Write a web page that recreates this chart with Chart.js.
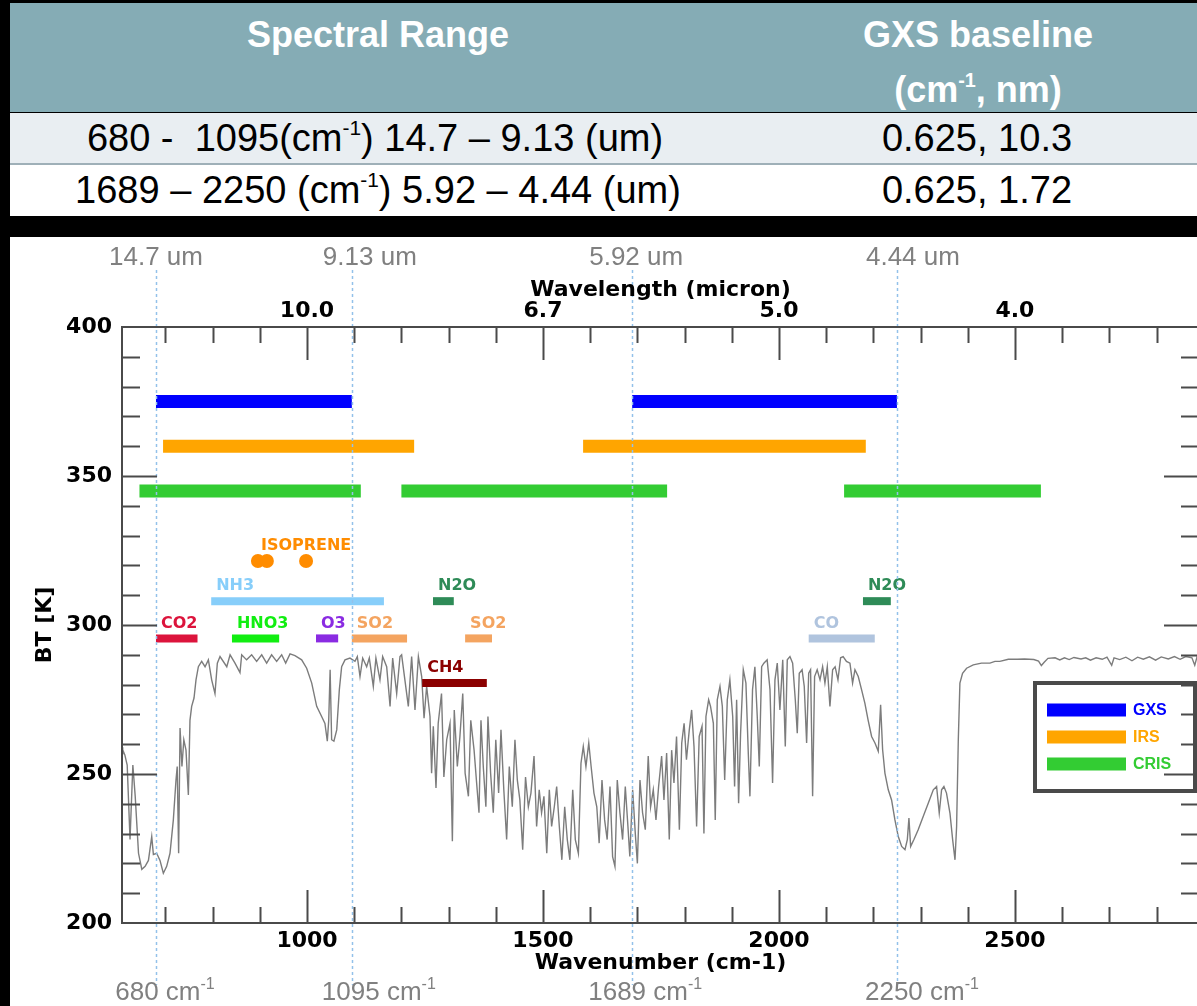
<!DOCTYPE html>
<html>
<head>
<meta charset="utf-8">
<script src="https://cdn.jsdelivr.net/npm/chart.js@4.4.1/dist/chart.umd.min.js"></script>
<style>
  html, body { margin: 0; padding: 0; background: #000; width: 1197px; height: 1006px; overflow: hidden; }
  .tbl { position: absolute; left: 10px; top: 3px; width: 1200px; height: 214px; font-family: "Liberation Sans", Arial, sans-serif; }
  .hdr { position: absolute; left: 0; top: 0; width: 1200px; height: 109px; background: #85acb5; }
  .r1 { position: absolute; left: 0; top: 110px; width: 1200px; height: 50px; background: #e9eef2; border-bottom: 2px solid #9fb0b8; }
  .r2 { position: absolute; left: 0; top: 162px; width: 1200px; height: 51px; background: #fff; }
  .c { position: absolute; transform: translate(-50%, -50%); white-space: nowrap; line-height: 1; }
  .h { color: #fff; font-weight: bold; font-size: 36px; }
  .t { color: #000; font-size: 38px; }
  sup { font-size: 0.55em; vertical-align: 0.75em; line-height: 0; }
  #wrap { position: absolute; left: 10px; top: 237px; width: 1200px; height: 769px; background: #fff; }
</style>
</head>
<body>
<div class="tbl">
  <div class="hdr"></div>
  <div class="r1"></div>
  <div class="r2"></div>
  <div class="c h" style="left:368px;top:32px">Spectral Range</div>
  <div class="c h" style="left:968px;top:32px">GXS baseline</div>
  <div class="c h" style="left:968px;top:87px">(cm<sup>-1</sup>, nm)</div>
  <div class="c t" style="left:365px;top:135px">680 -&nbsp; 1095(cm<sup>-1</sup>) 14.7 – 9.13 (um)</div>
  <div class="c t" style="left:967px;top:135px">0.625, 10.3</div>
  <div class="c t" style="left:368px;top:187px">1689 – 2250 (cm<sup>-1</sup>) 5.92 – 4.44 (um)</div>
  <div class="c t" style="left:967px;top:187px">0.625, 1.72</div>
</div>
<div id="wrap"><canvas id="c" width="1200" height="769"></canvas></div>
<script>
// brightness temperature spectrum
const specWn = [608, 609.5, 614, 619, 625, 631, 636, 643, 650, 657, 664, 671, 674.5, 681.5, 688.5, 695.6, 702.7, 709.7,
  716.8, 722.4, 725, 728, 731, 735, 739, 743.6, 748.6, 752, 755.6, 760.6, 764.8, 769.8, 776.8, 784, 791, 798, 805, 810,
  815.7, 830, 837, 847.4, 858, 861.6, 872, 882.7, 893.3, 904, 914.5, 925, 935.7, 946.3, 954.8, 964, 974.5, 988.7, 999.3,
  1010, 1020.5, 1031, 1038, 1043, 1046, 1049, 1052.2, 1057, 1063, 1068.5, 1073.4, 1080.5, 1091, 1101.7, 1106.6, 1112.3,
  1118, 1126.4, 1132, 1140.5, 1146, 1154.6, 1160.3, 1168.8, 1176, 1181.5, 1190, 1197,
  1200.5, 1214.7, 1221.7, 1228.8, 1236, 1243, 1248, 1253.5, 1260.6, 1264, 1267.6, 1273.3, 1278, 1285, 1290, 1296, 1303,
  1308, 1312, 1318.5, 1324, 1330, 1335, 1342, 1347, 1354, 1359.4, 1364.4, 1368.6, 1373.5, 1379, 1383.4, 1389, 1394.7,
  1400, 1406, 1411, 1417, 1423, 1428.6, 1435, 1440.6, 1445.6, 1451, 1457, 1463, 1469, 1474.5, 1481, 1486.5, 1492, 1497,
  1502, 1508, 1513.4, 1518.3, 1524, 1529, 1534.6, 1540, 1546, 1551.5, 1557, 1563, 1568.5, 1575, 1580.5, 1585.4, 1591,
  1597, 1602, 1608, 1614, 1619, 1625, 1630.6, 1636, 1642, 1647.5, 1652.5, 1657.4, 1663, 1668.7, 1674.4, 1680, 1684, 1690,
  1695.6, 1700, 1705.5, 1711, 1716.8, 1723, 1728, 1733.7, 1739.4, 1745, 1751.4, 1756.3, 1762, 1767.6, 1772.6, 1777.5,
  1783, 1789, 1794, 1799, 1804, 1810,
  1815, 1820, 1825.5, 1831, 1837, 1841, 1845.3, 1851, 1855, 1861, 1865, 1869.3, 1875, 1880, 1885, 1890.5, 1896, 1902,
  1906, 1910.3, 1914.5, 1918.7, 1924.4, 1930, 1935, 1938.5, 1944, 1949, 1954, 1958.3, 1963.3, 1968, 1975, 1981, 1986.5,
  1991.5, 1996.4, 2002, 2008, 2013.4, 2017.6, 2023.3, 2029, 2034.6, 2038.8, 2043, 2049, 2053.6, 2058.6, 2063, 2067,
  2071.3, 2075.5, 2081, 2087, 2092.5, 2097.4, 2102.4, 2108, 2113.7, 2119, 2125, 2130.6, 2136, 2143, 2150.4, 2156, 2161,
  2168, 2175, 2182, 2189, 2196.3, 2203.4, 2210.4, 2215.4, 2219.6, 2224.5, 2231.6, 2238.6, 2245.7, 2252.8, 2260, 2267,
  2272, 2275.4, 2279, 2286, 2295, 2305.8, 2316.3, 2327, 2334, 2339.6, 2344.6, 2349.5, 2355, 2362.3, 2368, 2373, 2376.4,
  2380, 2383.4, 2389, 2397.6, 2411.7, 2429, 2447, 2457.6, 2468, 2486,
  2505, 2520, 2540, 2550, 2556, 2562, 2570, 2585, 2595, 2605, 2615, 2625, 2640, 2650, 2660, 2672, 2685, 2695, 2705, 2710,
  2722, 2735, 2748, 2760, 2772, 2785, 2798, 2810, 2825, 2838, 2850, 2862, 2875, 2881, 2886, 2890];
const specBT = [259, 258.1, 256.4, 253, 228, 253, 242.5, 223.4, 218, 219, 221, 229, 223, 223.4, 221, 216.7, 219, 223.4,
  234.6, 248, 252.5, 223.4, 265.4, 252.5, 261.5, 258, 243, 268, 272.7, 275.5, 281.6, 286, 287.8, 286, 288.3, 281.6, 277, 287.2,
  289.4, 286, 290, 287.2, 284, 290, 288.3, 290, 287.8, 290, 287.2, 290, 287.8, 290, 287.2, 290.3, 289.7, 288.3, 285.5,
  280.5, 272.7, 269.3, 267, 261, 268, 285, 261.5, 261, 264.8, 278.3, 286, 288.3, 288.9, 287.8, 289.4, 282.7,
  288.9, 286, 288.9, 279.4, 288.9, 281.6, 289.4, 286, 272.7, 288.9, 277, 289.4,
  290, 272.7, 289.4, 271.5, 289.4, 282.7, 268.7, 279.4, 269.3, 250.3, 266, 245.3, 267, 277, 249, 261.5, 267,
  227.4, 271.5, 252.5, 262.6, 277, 250.3, 242.5, 268, 258, 247, 237, 268, 252.5, 239, 269.3, 250.3, 237,
  261.5, 243.6, 264.8, 244.7, 228, 252.5, 239, 261.5, 248, 241.3, 224.6, 249, 239, 243.6, 256, 232.4, 244.7, 237,
  242.5, 223.4, 244.7, 232.4, 239, 245.8, 232.4, 221.2, 239, 228, 221.2, 244.7, 228, 223.4, 253.6, 259.2, 252.5,
  260.4, 252.5, 243.6, 239, 226.8, 248, 234.6, 228, 245.8, 222.3, 219, 248, 237, 228, 245.8, 232.4, 222.3, 244.7,
  230, 220, 248, 237, 231.3, 256, 239, 244.7, 234.6, 245.8, 256, 241.3, 257, 228, 258, 247,
  262.6, 231.3, 260.4, 267, 254.8, 264.8,
  271.5, 259.2, 232.4, 262.6, 266, 230, 269.3, 274.9, 272.7, 267, 234.6, 274.9, 279.4, 272.7, 248, 274.9, 281.6, 269.3,
  245.8, 274.9, 240.2, 263.7, 285, 280.5, 257, 242.5, 278.3, 286, 269.3, 252.5, 286, 287.2, 288.3, 278.3, 247,
  281.6, 287.2, 271.5, 288.3, 259.2, 288.3, 289.4, 287.2, 274.9, 263.7, 283.8, 285, 279.4, 260.4, 283.8, 285,
  242.5, 282.7, 285, 281.6, 286, 280.5, 286, 272.7, 285, 286, 281.6, 289, 289.4, 287.8, 287.2, 280.5, 285,
  282.7, 278.3, 273.8, 268, 262.6, 260.4, 257.6, 273.2, 258.2, 250.3, 244.7, 241.3, 234.6, 229, 225.7, 224.6,
  228, 235.2, 225.7, 228, 231.3, 235.8, 240.2, 244.7, 245.8, 236.9, 244.7, 245.8, 243.6, 236.9, 228, 221.2, 232.4,
  261.5, 280.5, 283.8, 285.5, 286.6, 287.2, 287.2, 287.8, 287.8, 288.5,
  288.5, 288.6, 288.4, 287.9, 286.4, 287.5, 288.8, 289, 288.3, 289, 288.4, 289.1, 288.6, 289, 288.2, 289, 288.5, 289.2, 286.5, 289,
  288.4, 289.2, 288, 289.2, 288.5, 289.3, 288.2, 289.3, 288.6, 289.4, 288.5, 289.4, 289, 286.5, 289.4, 289.5];

// instrument spectral bands (cm-1) and their plotting level (K)
const instNames = ['GXS', 'IRS', 'CRIS'];
const instBT = [375, 360, 345];
const gxsStart = [680, 1689], gxsEnd = [1095, 2250];
const irsStart = [695, 1585], irsEnd = [1227, 2184];
const crisStart = [645, 1200, 2138], crisEnd = [1114, 1763, 2555];
const instColors = ['#0000ff', '#ffa500', '#33cc33'];

// trace gas bands
const gasNames = ['CO2', 'HNO3', 'O3', 'SO2', 'SO2', 'NH3', 'N2O', 'N2O', 'CH4', 'CO'];
const gasStart = [680, 841, 1019, 1095, 1335, 797, 1267, 2178, 1244, 2063];
const gasEnd = [768, 941, 1066, 1212, 1392, 1163, 1311, 2237, 1381, 2203];
const gasBT = [295.5, 295.5, 295.5, 295.5, 295.5, 308, 308, 308, 280.5, 295.5];
const gasColors = ['#dc143c', '#11ee11', '#8a2be2', '#f4a460', '#f4a460', '#87cefa', '#2e8b57', '#2e8b57', '#8b0000', '#b0c4de'];
const isoWn = [896, 915, 998];
const isoBT = [321.5, 321.5, 321.5];

// axes
const xTickLabels = [1000, 1500, 2000, 2500];
const wlTickWn = [1000, 1500, 2000, 2500];
const wlTickLabels = ['10.0', '6.7', '5.0', '4.0'];
const yTickLabels = [200, 250, 300, 350, 400];
const markerWn = [680, 1095, 1689, 2250];
const markerUm = ['14.7 um', '9.13 um', '5.92 um', '4.44 um'];

const BOLD = '"DejaVu Sans", Verdana, sans-serif';
const SANS = '"Liberation Sans", Arial, sans-serif';
const FRAME = '#4a4a4a';

function bandData(starts, ends, bt) {
  const out = [];
  starts.forEach((s, i) => {
    if (i > 0) out.push({ x: (ends[i - 1] + s) / 2, y: null });
    out.push({ x: s, y: bt }, { x: ends[i], y: bt });
  });
  return out;
}

function supText(ctx, base, sup, cx, cy, size, color) {
  ctx.fillStyle = color;
  ctx.textBaseline = 'middle';
  ctx.textAlign = 'left';
  ctx.font = size + 'px ' + SANS;
  const w1 = ctx.measureText(base).width;
  const small = Math.round(size * 0.6) + 'px ' + SANS;
  ctx.font = small;
  const w2 = sup ? ctx.measureText(sup).width : 0;
  const left = cx - (w1 + w2) / 2;
  ctx.font = size + 'px ' + SANS;
  ctx.fillText(base, left, cy);
  if (sup) { ctx.font = small; ctx.fillText(sup, left + w1, cy - size * 0.33); }
}

const datasets = [];
[[gxsStart, gxsEnd], [irsStart, irsEnd], [crisStart, crisEnd]].forEach(([s, e], i) => {
  datasets.push({ label: instNames[i], data: bandData(s, e, instBT[i]), borderColor: instColors[i],
    borderWidth: 13, borderCapStyle: 'butt', pointRadius: 0, spanGaps: false, order: 1 });
});
gasNames.forEach((g, i) => {
  datasets.push({ label: g, data: [{ x: gasStart[i], y: gasBT[i] }, { x: gasEnd[i], y: gasBT[i] }],
    borderColor: gasColors[i], borderWidth: 8, borderCapStyle: 'butt', pointRadius: 0, order: 1 });
});
datasets.push({ label: 'ISOPRENE', data: isoWn.map((w, i) => ({ x: w, y: isoBT[i] })), showLine: false,
  pointRadius: 7, pointBackgroundColor: '#ff8c00', pointBorderWidth: 0, order: 1 });
datasets.push({ label: 'BT', data: specWn.map((w, i) => ({ x: w, y: specBT[i] })), borderColor: '#7c7c7c',
  borderWidth: 1.4, pointRadius: 0, tension: 0, order: 10 });

const decor = {
  id: 'decor',
  afterDatasetsDraw(chart) {
    const { ctx, chartArea: a, scales: { x, y } } = chart;
    ctx.save();
    // gas labels
    ctx.font = 'bold 16px ' + BOLD;
    ctx.textBaseline = 'middle';
    ctx.textAlign = 'left';
    gasNames.forEach((g, i) => {
      ctx.fillStyle = gasColors[i];
      ctx.fillText(g, x.getPixelForValue(gasStart[i]) + 5, y.getPixelForValue(gasBT[i]) - 15);
    });
    ctx.fillStyle = '#ff8c00';
    ctx.fillText('ISOPRENE', x.getPixelForValue(isoWn[0]) + 3, y.getPixelForValue(isoBT[0]) - 15);
    // dotted markers
    ctx.strokeStyle = '#93c1ea';
    ctx.lineWidth = 1.5;
    ctx.setLineDash([3, 3]);
    markerWn.forEach(w => {
      const px = Math.round(x.getPixelForValue(w)) + 0.5;
      ctx.beginPath();
      ctx.moveTo(px, a.top - 57);
      ctx.lineTo(px, a.bottom + 62);
      ctx.stroke();
    });
    ctx.restore();
  },
  afterDraw(chart) {
    const { ctx, chartArea: a, scales: { x, y } } = chart;
    ctx.save();
    // legend box
    const lx = 1025, ly = 446, lw = 160, lh = 108;
    ctx.fillStyle = '#fff';
    ctx.fillRect(lx, ly, lw, lh);
    ctx.strokeStyle = FRAME;
    ctx.lineWidth = 4;
    ctx.strokeRect(lx, ly, lw, lh);
    ctx.font = 'bold 16px ' + SANS;
    ctx.textBaseline = 'middle';
    ctx.textAlign = 'left';
    instNames.forEach((n, i) => {
      const ry = ly + 27 + i * 27;
      ctx.fillStyle = instColors[i];
      ctx.fillRect(lx + 12, ry - 6.5, 79, 13);
      ctx.fillText(n, lx + 98, ry + 1);
    });

    // frame and inward ticks
    ctx.strokeStyle = FRAME;
    ctx.lineWidth = 2;
    ctx.strokeRect(a.left, a.top, a.right - a.left, a.bottom - a.top);
    ctx.beginPath();
    for (let w = 700; w <= 2800; w += 100) {
      const px = Math.round(x.getPixelForValue(w)) + 0.5;
      const len = w % 500 === 0 ? 33 : 16;
      ctx.moveTo(px, a.top); ctx.lineTo(px, a.top + len);
      ctx.moveTo(px, a.bottom); ctx.lineTo(px, a.bottom - len);
    }
    for (let t = 210; t < 400; t += 10) {
      const py = Math.round(y.getPixelForValue(t)) + 0.5;
      const len = t % 50 === 0 ? 35 : 18;
      ctx.moveTo(a.left, py); ctx.lineTo(a.left + len, py);
      ctx.moveTo(a.right, py); ctx.lineTo(a.right - len, py);
    }
    ctx.stroke();

    // tick labels and titles
    ctx.fillStyle = '#000';
    ctx.font = 'bold 22px ' + BOLD;
    ctx.textAlign = 'right';
    yTickLabels.forEach(t => ctx.fillText(String(t), a.left - 10, y.getPixelForValue(t)));
    ctx.textAlign = 'center';
    xTickLabels.forEach(t => ctx.fillText(String(t), x.getPixelForValue(t), a.bottom + 18));
    wlTickLabels.forEach((t, i) => ctx.fillText(t, x.getPixelForValue(wlTickWn[i]), a.top - 16));
    const cx = (a.left + a.right) / 2;
    ctx.fillText('Wavenumber (cm-1)', cx, a.bottom + 40);
    ctx.fillText('Wavelength (micron)', cx, a.top - 37);
    ctx.save();
    ctx.translate(a.left - 77, (a.top + a.bottom) / 2);
    ctx.rotate(-Math.PI / 2);
    ctx.fillText('BT [K]', 0, 0);
    ctx.restore();

    // grey band-edge annotations
    const nudge = [0, 18, 4, 16];
    markerWn.forEach((w, i) => {
      const px = x.getPixelForValue(w) + nudge[i];
      supText(ctx, markerUm[i], '', px, a.top - 69, 26, '#808080');
      supText(ctx, w + ' cm', '-1', px + 9, a.bottom + 70, 26, '#808080');
    });
    ctx.restore();
  }
};

new Chart(document.getElementById('c'), {
  type: 'line',
  data: { datasets },
  options: {
    responsive: false,
    animation: false,
    devicePixelRatio: 1,
    layout: { padding: { left: 112, right: 11, top: 90, bottom: 83 } },
    plugins: { legend: { display: false }, tooltip: { enabled: false } },
    scales: {
      x: { type: 'linear', min: 608, max: 2890, display: false },
      y: { min: 200, max: 400, display: false }
    }
  },
  plugins: [decor]
});
</script>
</body>
</html>
